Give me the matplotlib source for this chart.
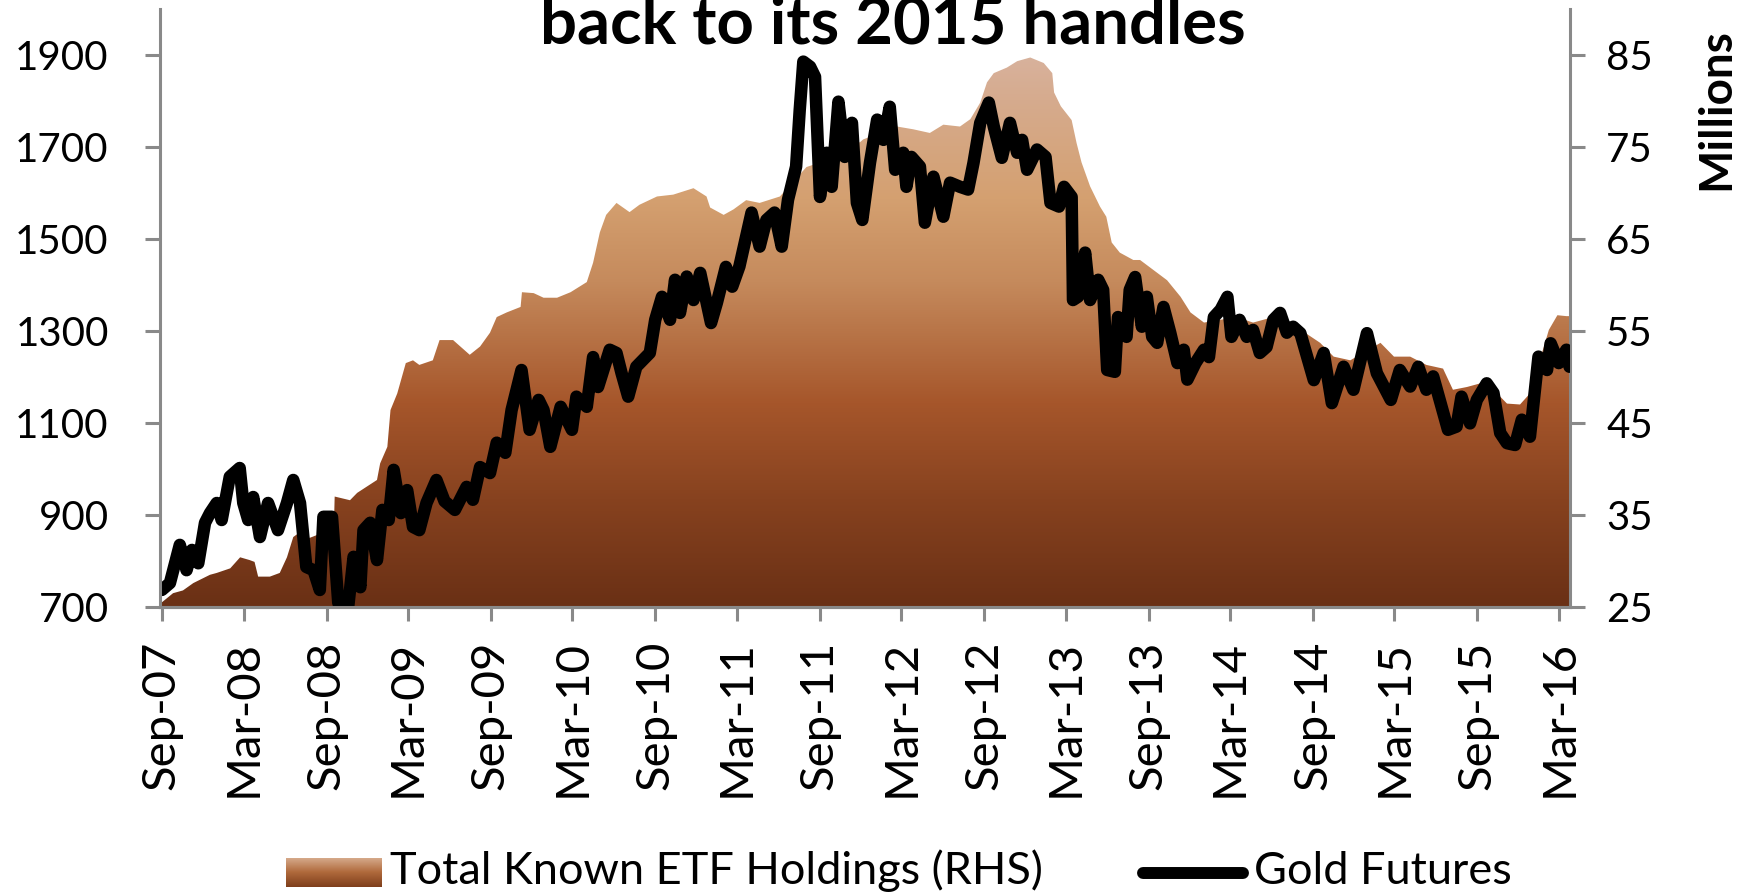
import numpy as np
import pandas as pd
import matplotlib
matplotlib.use("Agg")
import matplotlib.pyplot as plt
import matplotlib.dates as mdates
from matplotlib.colors import LinearSegmentedColormap
from matplotlib.patches import PathPatch
from matplotlib.lines import Line2D

# gold futures (left axis, USD/oz)
gold_dates = [
    "2007-09-01", "2007-09-19", "2007-10-11", "2007-10-26", "2007-11-07", "2007-11-21",
    "2007-12-06", "2007-12-17", "2008-01-01", "2008-01-12", "2008-01-30", "2008-02-21",
    "2008-02-29", "2008-03-11", "2008-03-22", "2008-04-06", "2008-04-24", "2008-05-16",
    "2008-06-05", "2008-06-19", "2008-07-04", "2008-07-18", "2008-08-03", "2008-08-17",
    "2008-08-25", "2008-09-13", "2008-09-27", "2008-10-19", "2008-10-31", "2008-11-15",
    "2008-11-22", "2008-12-07", "2008-12-22", "2009-01-03", "2009-01-17", "2009-01-28",
    "2009-02-13", "2009-02-27", "2009-03-12", "2009-03-26", "2009-04-11", "2009-05-03",
    "2009-05-21", "2009-06-13", "2009-07-09", "2009-07-23", "2009-08-08", "2009-08-30",
    "2009-09-14", "2009-10-03", "2009-10-17", "2009-11-08", "2009-11-26", "2009-12-16",
    "2009-12-27", "2010-01-11", "2010-02-03", "2010-02-28", "2010-03-10", "2010-04-02",
    "2010-04-16", "2010-04-27", "2010-05-23", "2010-06-07", "2010-06-18", "2010-07-03",
    "2010-07-21", "2010-08-20", "2010-09-01", "2010-09-16", "2010-10-04", "2010-10-15",
    "2010-10-26", "2010-11-10", "2010-11-25", "2010-12-10", "2011-01-03", "2011-01-16",
    "2011-02-05", "2011-02-19", "2011-03-07", "2011-04-03", "2011-04-21", "2011-05-06",
    "2011-05-24", "2011-06-09", "2011-06-23", "2011-07-11", "2011-07-19", "2011-07-27",
    "2011-08-11", "2011-08-22", "2011-09-02", "2011-09-17", "2011-09-28", "2011-10-13",
    "2011-10-27", "2011-11-12", "2011-11-23", "2011-12-05", "2011-12-22", "2012-01-07",
    "2012-01-21", "2012-02-04", "2012-02-16", "2012-03-05", "2012-03-12", "2012-03-23",
    "2012-04-11", "2012-04-22", "2012-05-11", "2012-06-02", "2012-06-17", "2012-07-09",
    "2012-07-27", "2012-08-08", "2012-08-23", "2012-09-11", "2012-09-22", "2012-10-10",
    "2012-10-28", "2012-11-13", "2012-11-24", "2012-12-05", "2012-12-27", "2013-01-15",
    "2013-01-26", "2013-02-14", "2013-02-25", "2013-03-14", "2013-03-17", "2013-03-28",
    "2013-04-13", "2013-04-24", "2013-05-12", "2013-05-23", "2013-06-01", "2013-06-18",
    "2013-06-25", "2013-07-14", "2013-07-21", "2013-08-02", "2013-08-17", "2013-08-28",
    "2013-09-09", "2013-09-20", "2013-10-04", "2013-10-19", "2013-11-04", "2013-11-18",
    "2013-11-26", "2013-12-14", "2014-01-02", "2014-01-13", "2014-01-24", "2014-02-08",
    "2014-02-23", "2014-03-04", "2014-03-22", "2014-04-07", "2014-04-21", "2014-05-06",
    "2014-05-21", "2014-06-05", "2014-06-20", "2014-07-05", "2014-07-19", "2014-08-04",
    "2014-09-03", "2014-09-25", "2014-10-13", "2014-11-08", "2014-11-30", "2014-12-30",
    "2015-01-21", "2015-02-21", "2015-03-13", "2015-04-05", "2015-04-23", "2015-05-11",
    "2015-05-26", "2015-06-28", "2015-07-17", "2015-07-28", "2015-08-16", "2015-08-31",
    "2015-09-22", "2015-10-07", "2015-10-22", "2015-11-06", "2015-11-24", "2015-12-09",
    "2015-12-27", "2016-01-15", "2016-02-03", "2016-02-11", "2016-02-29", "2016-03-17",
    "2016-03-24",
]
gold_values = [
    737, 752, 835, 780, 824, 795,
    883, 904, 926, 889, 983, 1002,
    926, 889, 939, 852, 926, 867,
    926, 976, 926, 787, 780, 737,
    896, 896, 709, 700, 809, 743,
    867, 883, 802, 911, 889, 998,
    904, 954, 874, 867, 926, 976,
    930, 911, 961, 933, 1004, 991,
    1057, 1035, 1128, 1215, 1085, 1150,
    1128, 1048, 1135, 1085, 1157, 1135,
    1243, 1178, 1259, 1252, 1209, 1157,
    1222, 1252, 1324, 1374, 1324, 1411,
    1339, 1418, 1367, 1426, 1317, 1361,
    1439, 1396, 1440, 1557, 1483, 1541,
    1557, 1483, 1585, 1657, 1780, 1885,
    1874, 1852, 1591, 1687, 1613, 1798,
    1678, 1752, 1578, 1541, 1665, 1759,
    1715, 1787, 1650, 1687, 1613, 1678,
    1657, 1535, 1635, 1548, 1622, 1613,
    1607, 1665, 1752, 1796, 1744, 1676,
    1752, 1687, 1715, 1650, 1694, 1678,
    1578, 1570, 1613, 1591, 1367, 1374,
    1470, 1367, 1411, 1389, 1215, 1211,
    1330, 1287, 1389, 1417, 1309, 1374,
    1287, 1274, 1352, 1296, 1230, 1259,
    1194, 1230, 1259, 1243, 1330, 1346,
    1374, 1287, 1324, 1287, 1302, 1252,
    1265, 1324, 1339, 1296, 1309, 1295,
    1193, 1252, 1143, 1222, 1172, 1295,
    1208, 1150, 1215, 1179, 1222, 1172,
    1201, 1085, 1092, 1157, 1099, 1150,
    1186, 1165, 1078, 1056, 1052, 1107,
    1070, 1244, 1215, 1273, 1230, 1259,
    1222,
]

# total known ETF holdings (right axis, millions oz)
etf_dates = [
    "2007-09-01", "2007-09-26", "2007-10-18", "2007-11-10", "2007-12-17", "2008-01-01",
    "2008-01-31", "2008-02-22", "2008-03-14", "2008-03-25", "2008-04-02", "2008-04-28",
    "2008-05-20", "2008-06-05", "2008-06-19", "2008-06-30", "2008-07-25", "2008-08-20",
    "2008-09-17", "2008-09-19", "2008-10-23", "2008-11-08", "2008-11-30", "2008-12-22",
    "2008-12-29", "2009-01-14", "2009-01-21", "2009-02-05", "2009-02-24", "2009-03-12",
    "2009-03-26", "2009-04-25", "2009-05-10", "2009-05-29", "2009-06-09", "2009-07-16",
    "2009-08-08", "2009-08-30", "2009-09-14", "2009-10-06", "2009-11-06", "2009-11-09",
    "2009-12-05", "2009-12-27", "2010-01-26", "2010-02-25", "2010-04-02", "2010-04-16",
    "2010-05-01", "2010-05-15", "2010-06-07", "2010-07-06", "2010-07-28", "2010-09-05",
    "2010-10-11", "2010-11-25", "2010-12-24", "2011-01-01", "2011-01-31", "2011-02-22",
    "2011-03-22", "2011-04-21", "2011-06-05", "2011-08-03", "2011-09-15", "2011-10-20",
    "2011-11-30", "2011-12-07", "2012-02-20", "2012-03-27", "2012-05-03", "2012-06-02",
    "2012-07-09", "2012-08-01", "2012-08-23", "2012-09-07", "2012-09-22", "2012-10-21",
    "2012-11-13", "2012-12-12", "2013-01-11", "2013-01-30", "2013-02-03", "2013-02-18",
    "2013-03-14", "2013-03-25", "2013-04-05", "2013-04-24", "2013-05-16", "2013-05-30",
    "2013-06-11", "2013-06-29", "2013-07-29", "2013-08-13", "2013-09-12", "2013-10-12",
    "2013-11-11", "2013-12-03", "2014-01-02", "2014-03-15", "2014-04-21", "2014-06-05",
    "2014-07-27", "2014-09-17", "2014-10-17", "2014-11-23", "2015-01-29", "2015-02-28",
    "2015-04-05", "2015-05-11", "2015-06-17", "2015-07-09", "2015-08-09", "2015-09-08",
    "2015-10-07", "2015-11-06", "2015-12-05", "2015-12-27", "2016-02-07", "2016-02-26",
    "2016-03-17", "2016-03-24",
]
etf_values = [
    25.5, 26.5, 26.8, 27.6, 28.5, 28.7,
    29.2, 30.4, 30.1, 29.9, 28.3, 28.3,
    28.7, 30.4, 32.6, 33.0, 32.5, 33.0,
    33.2, 37.0, 36.6, 37.4, 38.1, 38.8,
    40.6, 42.4, 46.4, 48.2, 51.5, 51.8,
    51.3, 51.8, 54.0, 54.0, 54.0, 52.4,
    53.3, 54.8, 56.5, 57.0, 57.6, 59.2,
    59.1, 58.6, 58.6, 59.2, 60.3, 62.4,
    65.7, 67.6, 68.9, 67.9, 68.7, 69.6,
    69.8, 70.5, 69.6, 68.4, 67.6, 68.2,
    69.2, 68.9, 69.6, 72.8, 73.5, 75.0,
    75.5, 75.8, 77.2, 76.9, 76.5, 77.4,
    77.2, 78.0, 79.8, 82.0, 83.0, 83.6,
    84.3, 84.7, 84.1, 83.0, 80.9, 79.4,
    77.9, 75.4, 73.3, 70.7, 68.5, 67.4,
    64.6, 63.5, 62.7, 62.7, 61.6, 60.5,
    58.7, 57.0, 55.9, 56.5, 55.9, 56.5,
    55.4, 53.7, 52.2, 51.8, 53.7, 52.2,
    52.2, 51.3, 50.9, 48.6, 48.9, 49.3,
    48.6, 47.1, 47.0, 48.2, 55.1, 56.7,
    56.6, 56.6,
]

left_ticks = [700, 900, 1100, 1300, 1500, 1700, 1900]
right_ticks = [25, 35, 45, 55, 65, 75, 85]

# gradient stops of the area fill (fraction of axis height from bottom, colour)
area_stops = [(0.0, "#6A3015"), (0.179, "#87421F"), (0.341, "#A6562B"),
              (0.542, "#C58A5C"), (0.681, "#D4A070"), (0.848, "#D6AB8E"),
              (0.923, "#D8B29D"), (1.0, "#DAB8A6")]
AXIS_GREY = "#898989"

plt.rcParams["font.family"] = ["Lato", "DejaVu Sans"]

fig = plt.figure(figsize=(17.48, 8.96), dpi=100)
ax = fig.add_axes([160 / 1748, 1 - 607 / 896, 1410 / 1748, 598.3 / 896])
ax2 = ax.twinx()

gold_x = mdates.date2num(pd.to_datetime(gold_dates))
etf_x = mdates.date2num(pd.to_datetime(etf_dates))
x0 = mdates.date2num(pd.Timestamp("2007-08-28"))
x1 = mdates.date2num(pd.Timestamp("2016-03-25"))

# area: gradient image clipped to the ETF outline
ax2.set_ylim(25, 90)
ax2.set_xlim(x0, x1)
poly = ax2.fill_between(etf_x, etf_values, 25, facecolor="none", edgecolor="none")
clip = PathPatch(poly.get_paths()[0], transform=ax2.transData,
                 facecolor="none", edgecolor="none")
ax2.add_patch(clip)
cmap = LinearSegmentedColormap.from_list("etf", area_stops)
grad = np.linspace(0, 1, 512).reshape(-1, 1)
im = ax2.imshow(grad, cmap=cmap, aspect="auto", origin="lower",
                extent=[x0, x1, 25, 90], interpolation="bilinear")
im.set_clip_path(clip)

# gold line on the left axis, drawn above the area
ax.set_zorder(ax2.get_zorder() + 1)
ax.patch.set_visible(False)
ax.plot(gold_x, gold_values, color="black", lw=9,
        solid_joinstyle="round", solid_capstyle="round")
ax.set_ylim(700, 2000)
ax.set_xlim(x0, x1)

# axes styling
for a in (ax, ax2):
    a.spines["top"].set_visible(False)
    for side in ("left", "right", "bottom"):
        a.spines[side].set_color(AXIS_GREY)
        a.spines[side].set_linewidth(2.2)
ax.spines["right"].set_visible(False)
ax2.spines["left"].set_visible(False)

ax.set_yticks(left_ticks)
ax2.set_yticks(right_ticks)
ax.tick_params(axis="y", direction="out", length=11, width=2.2, color=AXIS_GREY,
               labelsize=29, pad=26)
ax2.tick_params(axis="y", direction="out", length=11, width=2.2, color=AXIS_GREY,
                labelsize=29, pad=15)

ax.xaxis.set_major_locator(mdates.MonthLocator(bymonth=[3, 9], bymonthday=1))
ax.xaxis.set_major_formatter(mdates.DateFormatter("%b-%y"))
ax.tick_params(axis="x", direction="out", length=10, width=2.2, color=AXIS_GREY,
               labelsize=34, pad=14, labelrotation=90)
ax2.tick_params(axis="x", bottom=False, labelbottom=False)

# title (first line falls outside the picture) and right axis unit
fig.text(893 / 1748, 1 - 43 / 896, "back to its 2015 handles", ha="center",
         va="baseline", fontsize=47, fontweight="bold")
fig.text(1716 / 1748, 1 - 109 / 896, "Millions", rotation=90, ha="center",
         va="center", fontsize=33, fontweight="bold")

# legend drawn by hand: gradient swatch + line sample
lax = fig.add_axes([286 / 1748, 1 - 887 / 896, 96 / 1748, 29 / 896])
lax.imshow(grad, cmap=LinearSegmentedColormap.from_list(
    "sw", ["#7E3E1B", "#B06A3C", "#D8AE90"]), aspect="auto", origin="lower")
lax.set_axis_off()
fig.text(390 / 1748, 1 - 871 / 896, "Total Known ETF Holdings (RHS)",
         ha="left", va="center", fontsize=32.5)
fig.add_artist(Line2D([1143 / 1748, 1243 / 1748], [1 - 873 / 896, 1 - 873 / 896],
                      transform=fig.transFigure, color="black", lw=8.6,
                      solid_capstyle="round"))
fig.text(1254 / 1748, 1 - 871 / 896, "Gold Futures", ha="left", va="center",
         fontsize=32.5)

fig.savefig("out.png", dpi=100)
